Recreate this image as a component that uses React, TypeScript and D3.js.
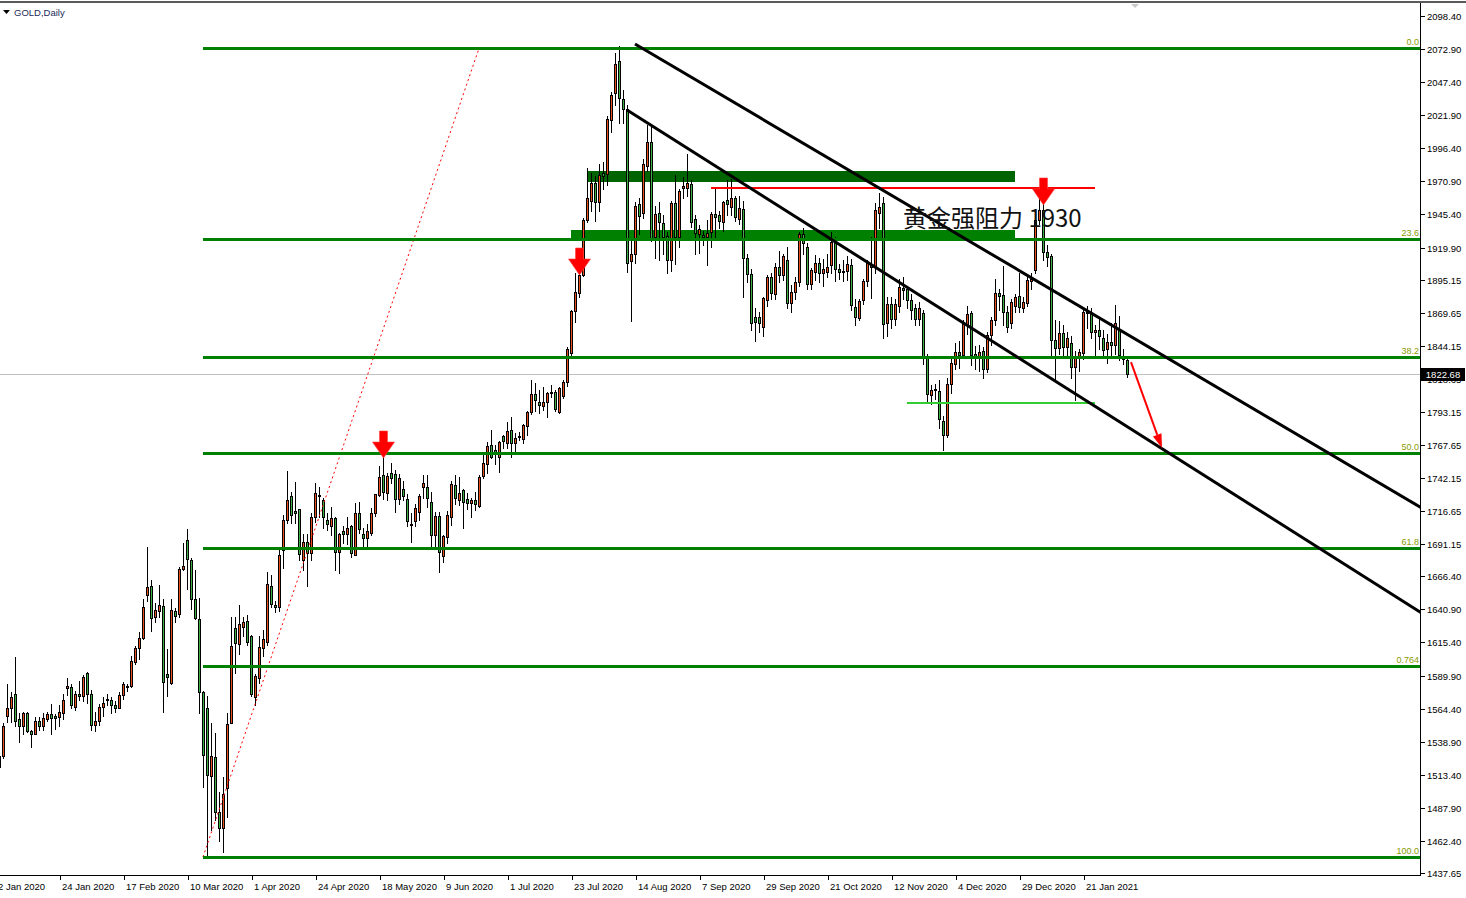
import React from 'react';
import * as d3 from 'd3';

// ---------------- DATA ----------------
const opens = [
1519,1528,1559,1565,1576,1556,1551,1561,1547,1545,
1555,1551,1556,1560,1559,1558,1561,1580,1581,1566,
1576,1574,1592,1576,1552,1555,1566,1571,1571,1567,
1565,1575,1582,1582,1600,1611,1619,1652,1659,1635,
1640,1643.5,1591,1584.4,1639.6,1637,1671.8,1694.4,1679,1648.9,
1633.2,1577.4,1564.6,1512.4,1526.8,1484.4,1472,1503,1553,1626.3,
1614,1627.6,1632.2,1620.4,1573,1587.7,1611,1616,1659.2,1644,
1642.5,1687,1709.8,1728.3,1716.7,1718,1679,1693,1684,1712,
1729,1725,1710,1705,1711,1685,1701,1699,1705,1683,
1715,1699,1696,1700,1715,1729,1744.5,1731,1746,1745,
1726,1734,1726,1707,1709,1716,1735,1735,1724,1698,
1713,1682,1696.7,1711.9,1736.8,1725.2,1733,1725.8,1722.7,1725.2,
1720.6,1744,1753,1767.7,1763.8,1758.7,1774.6,1769.4,1779.2,1768.9,
1774,1772,1782.6,1793.4,1807,1801.1,1797.7,1801.1,1808.8,1808.8,
1793.3,1805.4,1816.5,1838.8,1871,1884.6,1898.7,1941.1,1956,1970,
1955.3,1977.6,1976.6,2018.3,2038.8,2063.7,2034.2,2026.4,1909.5,1914.9,
1953.2,1946.3,1983,2001,1927.8,1946.3,1938.5,1929,1910,1954,
1928,1965.5,1966,1968.9,1941.6,1930,1929.5,1928.3,1932.1,1945.5,
1944.9,1939.8,1956.5,1951.4,1958.3,1941.6,1949.3,1911.6,1899.2,1866.6,
1866,1858.4,1879.4,1897.4,1884,1905,1899,1910.3,1876.9,1885.9,
1893,1930,1920.5,1891.7,1901,1908,1900,1901,1906.6,1923.6,
1903,1901,1901.8,1906.5,1874.3,1865.3,1879.5,1894.1,1907,1905.2,
1946.8,1954.5,1862,1876.4,1864.6,1874.9,1888.5,1887.7,1879.5,1873.6,
1865,1869.7,1836.3,1806,1810,1809.6,1786.4,1775.4,1814.7,1829.9,
1839.6,1837.1,1860.9,1869.7,1838,1835,1840,1826,1852.5,1864,
1885,1883,1870,1862,1875,1882.5,1873.6,1877,1894,1902.6,
1941.2,1948.9,1916.7,1913.4,1848.6,1842.2,1853.8,1843.5,1846,1828,
1835,1838.9,1870.5,1869.2,1855,1856,1850,1842,1847,1845,
1856,1836,1833
];
const highs = [
1530,1553,1583,1577,1604,1561,1562,1562,1548,1558,
1558,1561,1562,1568,1560,1567,1576,1588,1583,1578,
1586,1590,1593,1579,1562,1568,1573,1576,1573,1570.5,
1577,1585,1583.5,1605,1613,1623.5,1648.6,1689,1663.5,1645.6,
1659.7,1649,1610,1649,1641.7,1673.8,1692.3,1703,1680.2,1671.3,
1649.4,1578.2,1574.4,1553.5,1545.3,1500.3,1512,1561.3,1635.3,1635.3,
1644.3,1635.3,1636.6,1621.1,1591,1620,1625,1670,1667.4,1647,
1688,1714,1747.8,1731.6,1739.3,1718.5,1699,1699,1715,1738,
1735.5,1727,1715,1720,1712,1700,1705,1712,1706,1723,
1724,1704,1707,1719,1730,1751.5,1761,1746,1754,1748,
1745,1740,1730,1715,1722,1730,1744.5,1744.5,1731.7,1716,
1716.2,1698,1717,1740.2,1744.5,1742.7,1734,1730.9,1727,1731.7,
1744.5,1762,1770.2,1779.2,1767.7,1771,1775.4,1785.6,1789.5,1777.2,
1777.9,1783.5,1794,1817.8,1815.7,1810,1812.6,1808.5,1813.9,1810,
1812,1817.8,1843,1872,1900,1900,1943,1981,1977,1975,
1984,1986,2021,2040,2069.6,2075,2041,2030,1925,1955,
1958,1988,2014.4,2015,1952,1955,1945,1932,1956,1976,
1965,1974,1991.7,1972,1945,1937,1933,1941,1947,1964.8,
1948,1956,1972,1973,1960,1960,1956,1915,1903,1873,
1870,1882,1899,1900,1908,1917,1915,1920,1891,1897,
1932,1935,1923,1904,1914,1912,1911,1915,1932,1928,
1907,1910,1913,1911,1880,1880,1896,1910,1928,1954,
1962,1959.1,1881.5,1881.5,1880,1896,1897,1890,1884,1876,
1878,1872,1838,1814,1815,1818,1790,1819,1835,1846,
1848,1864,1875,1871,1844,1845,1843,1855,1866,1896,
1888,1906,1875,1880,1884,1900,1882,1898,1900,1944,
1959,1954,1922,1915,1864,1863,1860,1855,1852,1840,
1842,1872,1875,1873,1860,1866,1856,1853,1862,1875.6,
1867,1842,1836
];
const lows = [
1517,1526,1554,1554,1551,1539,1545,1546,1535,1545,
1548,1548,1555,1545,1549,1551,1556,1575,1565,1563,
1571,1570,1569,1548,1547,1552,1559,1567,1561,1561.5,
1565,1572,1578,1581,1599,1603,1618,1647,1624.5,1631.4,
1635.3,1562,1574,1583.4,1631.4,1635.3,1671.3,1656.6,1640.9,1633.2,
1560.7,1504.2,1450.5,1470.8,1478.5,1462.6,1454,1481,1553,1591.6,
1606.5,1620.4,1613.4,1574,1567,1584,1605,1613.4,1643,1639,
1640,1673,1707.7,1707.2,1707.2,1679,1671,1659,1679,1708,
1712,1704,1702,1698,1671,1669,1692,1691,1681,1683,
1700,1690,1690,1698,1713,1728,1726,1725,1738,1716,
1722,1725,1705,1693,1705,1710,1726.5,1720,1689,1689,
1670,1677.7,1691.8,1706,1722,1721.4,1703.4,1718,1712.4,1717.5,
1720,1742,1745.8,1757.4,1753,1747.1,1765,1765.1,1758.7,1762.5,
1771.5,1768.9,1775.4,1791.5,1794,1792,1795,1789.5,1805,1794,
1792,1804,1813,1836,1862.7,1882,1898,1939.8,1948,1940,
1948,1965,1968,2009,2030,2016,2016,1901,1863,1908,
1930,1943,1979,1925,1912,1910,1915,1900,1902,1907,
1920,1958,1960,1936,1915,1916,1922,1906.4,1920,1925.7,
1935,1933,1945,1945,1940,1938,1882,1893,1856,1848,
1855,1852,1875,1880,1880,1893,1895,1873,1870,1880,
1890,1915,1888,1888,1895,1893,1890,1897,1900,1894,
1896,1894,1895,1872,1860,1864,1876,1890,1880.8,1900,
1935,1849.9,1852,1857.6,1860,1870,1880,1873,1865,1860,
1860,1830,1800,1799,1803,1780.5,1764,1774,1808,1826,
1827,1836,1853,1829,1826,1825,1819,1824,1845,1860,
1872,1860,1855,1858,1870,1870,1870,1875,1888,1900,
1938,1910,1906,1835,1817.8,1838,1836,1835,1819,1802,
1825,1834,1858,1850,1836,1842,1836,1831,1836,1838,
1833,1830,1820
];
const closes = [
1528,1551,1565,1573,1555,1551,1561,1547,1545,1555,
1551,1557,1560,1557,1557,1562,1571,1582,1567,1576,
1574,1589,1576,1552,1555,1566,1569,1572,1567,1565,
1575,1583,1581,1601,1611,1619,1642.5,1658,1634,1640.4,
1644.3,1585,1588.5,1640.4,1636,1671.8,1674.3,1679.5,1648.6,1634,
1577,1528.6,1513.2,1527.8,1485,1472,1498.3,1552.5,1612.7,1614.7,
1630,1631.2,1616,1575.6,1589.5,1611.6,1617.8,1660.5,1644.8,1642.5,
1683,1710,1725.2,1713.7,1715,1683.3,1693,1684,1712,1731,
1728,1712,1707,1711,1685,1699,1699,1704,1684,1715,
1703,1696,1701,1715,1730,1743,1731.6,1744,1742,1726,
1742,1728,1709,1706,1719,1728,1738,1726.5,1698.3,1713,
1685.4,1697.5,1713.7,1737.6,1726.5,1730.4,1724,1722.7,1725.2,1722.2,
1743.2,1754,1766.9,1758.7,1761.2,1770.2,1771,1778.7,1768.9,1772.8,
1774.3,1783.1,1793.4,1807,1802.3,1798.5,1801.1,1808,1807.5,1795.1,
1811.3,1816.5,1841.4,1871.2,1885.9,1898.7,1941.1,1957.8,1970,1955,
1975.8,1975,2019,2037.5,2061.4,2034.9,2026.4,1908.2,1914.9,1951.9,
1944.2,1984,2001,1927,1945.7,1939.8,1928.3,1910,1953.9,1928,
1963.5,1967.3,1969.4,1939.8,1930.8,1934,1927.8,1930.8,1945.5,1943.2,
1940.3,1955.2,1953.5,1957.8,1943.2,1950.1,1911.6,1899.2,1861.9,1862.7,
1862,1880.7,1897.4,1884.6,1905.1,1899,1913,1876.9,1885.9,1893.6,
1930.1,1923.6,1891.7,1902.6,1908,1900,1903,1905,1924.4,1903.5,
1901,1902,1907.5,1875.6,1866.6,1878.7,1894.1,1907.7,1905,1948.9,
1951.4,1860.9,1876.4,1864.6,1876.4,1889.8,1887.2,1879.5,1871.8,1864.6,
1873,1836.3,1807,1810,1811,1787.5,1775.4,1814.7,1831.2,1839.6,
1837.1,1860.9,1868.7,1837.1,1835,1839,1826,1852.5,1864,1884.6,
1882.5,1870,1859,1878,1882,1873.8,1878.2,1894.9,1896,1941.2,
1948.9,1916.7,1912.9,1848.6,1842.2,1853.8,1843.5,1850,1828,1835,
1839,1870.5,1869.2,1855,1856,1852,1841,1847,1845,1862,
1837,1834,1822.7
];

const dateLabels = [
  '2 Jan 2020', '24 Jan 2020', '17 Feb 2020', '10 Mar 2020', '1 Apr 2020', '24 Apr 2020',
  '18 May 2020', '9 Jun 2020', '1 Jul 2020', '23 Jul 2020', '14 Aug 2020', '7 Sep 2020',
  '29 Sep 2020', '21 Oct 2020', '12 Nov 2020', '4 Dec 2020', '29 Dec 2020', '21 Jan 2021'
];
const dateLabelStep = 16; // bars between date labels

const priceLabels = [
  2098.40, 2072.90, 2047.40, 2021.90, 1996.40, 1970.90, 1945.40, 1919.90, 1895.15,
  1869.65, 1844.15, 1818.65, 1793.15, 1767.65, 1742.15, 1716.65, 1691.15, 1666.40,
  1640.90, 1615.40, 1589.90, 1564.40, 1538.90, 1513.40, 1487.90, 1462.40, 1437.65
];

const currentPrice = 1822.68;

// Fibonacci retracement (anchor bar index & price)
const fibStart = { i: 51, p: 1450.0 };
const fibEnd = { i: 120, p: 2073.5 };
const fibLevels = [0, 0.236, 0.382, 0.5, 0.618, 0.764, 1];
const fibTexts = ['0.0', '23.6', '38.2', '50.0', '61.8', '0.764', '100.0'];

// drawn objects: zones, lines, arrows (bar index & price)
const zones = [
  { i0: 147, i1: 254, p0: 1970.4, p1: 1978.9, color: '#006400' },
  { i0: 143, i1: 254, p0: 1927.6, p1: 1933.4, color: '#008000' },
];
const hLines = [
  { i0: 178, i1: 274, p: 1966.6, color: '#ff0000' },
  { i0: 227, i1: 274, p: 1800.8, color: '#32cd32' },
];
const trendLines = [
  { a: { i: 159, p: 2076.8 }, b: { i: 272, p: 1871.3 } },
  { a: { i: 157, p: 2025.9 }, b: { i: 272, p: 1801.4 } },
];
const downArrows = [
  { i: 96, p: 1757.6 },
  { i: 145, p: 1898.7 },
  { i: 261, p: 1952.7 },
];
const forecastArrow = { a: { i: 283, p: 1831.6 }, b: { i: 290.75, p: 1765.3 } };
const note = { i: 226, p: 1935.7, text: '黄金强阻力 1930' };

// ---------------- CHART ----------------
const W = 1466;
const H = 898;
const PLOT_R = 1420;
const PLOT_B = 875;
const BULL = '#e8501e';
const BEAR = '#3cb043';
const FIB = '#008000';
const FIB_TXT = '#8a9a00';
const AXIS_FONT = '"Liberation Sans", Arial, sans-serif';

export default function App() {
  const x = d3.scaleLinear().domain([0, 1]).range([-1, 3]);
  const y = d3.scaleLinear().domain([1437.65, 2098.4]).range([873, 16]);
  const iAtRight = x.invert(PLOT_R + 1);

  const candles = d3.range(closes.length).map((i) => {
    const o = opens[i];
    const c = closes[i];
    const h = Math.max(highs[i], o, c);
    const l = Math.min(lows[i], o, c);
    const cx = Math.round(x(i));
    return {
      i,
      cx,
      yt: Math.round(y(Math.max(o, c))),
      yb: Math.round(y(Math.min(o, c))),
      yh: Math.round(y(h)),
      yl: Math.round(y(l)),
      up: c >= o,
    };
  });

  const fibRange = fibEnd.p - fibStart.p;
  const extend = (a: { i: number; p: number }, b: { i: number; p: number }, iEnd: number) => {
    const slope = (b.p - a.p) / (b.i - a.i);
    return { i: iEnd, p: a.p + slope * (iEnd - a.i) };
  };

  const fa = forecastArrow;
  const fx1 = x(fa.a.i), fy1 = y(fa.a.p), fx2 = x(fa.b.i), fy2 = y(fa.b.p);
  const ang = Math.atan2(fy2 - fy1, fx2 - fx1);
  const headLen = 14, headHalf = 4.5;
  const bx = fx2 - headLen * Math.cos(ang), by = fy2 - headLen * Math.sin(ang);
  const head = [
    [fx2, fy2],
    [bx + headHalf * Math.sin(ang), by - headHalf * Math.cos(ang)],
    [bx - headHalf * Math.sin(ang), by + headHalf * Math.cos(ang)],
  ];

  const arrowPath = (tx: number, ty: number) =>
    `M${tx - 3.5},${ty - 27} L${tx + 4.5},${ty - 27} L${tx + 4.5},${ty - 16} L${tx + 11.5},${ty - 16} L${tx + 0.5},${ty} L${tx - 10.5},${ty - 16} L${tx - 3.5},${ty - 16} Z`;

  const cpY = Math.round(y(currentPrice));

  return (
    <svg
      width={W}
      height={H}
      style={{ position: 'absolute', left: 0, top: 0, background: '#fff', display: 'block' }}
    >
      <defs>
        <clipPath id="plot">
          <rect x={0} y={3} width={PLOT_R} height={PLOT_B - 3} />
        </clipPath>
      </defs>
      <rect x={0} y={0} width={W} height={H} fill="#fff" />

      <g clipPath="url(#plot)">
        {/* background zones */}
        {zones.map((z, k) => (
          <rect
            key={k}
            x={x(z.i0)}
            y={Math.round(y(z.p1))}
            width={x(z.i1) - x(z.i0)}
            height={Math.round(y(z.p0)) - Math.round(y(z.p1))}
            fill={z.color}
          />
        ))}
        {/* current price line */}
        <rect x={0} y={cpY} width={PLOT_R} height={1} fill="#c0c0c0" />

        {/* candles */}
        {candles.map((d) => (
          <g key={d.i}>
            <rect x={d.cx} y={d.yh} width={1} height={d.yl - d.yh + 1} fill="#000" />
            <rect x={d.cx - 1} y={d.yt} width={3} height={d.yb - d.yt + 1} fill="#000" />
            {d.yb - d.yt > 1 && (
              <rect x={d.cx} y={d.yt + 1} width={1} height={d.yb - d.yt - 1} fill={d.up ? BULL : BEAR} />
            )}
          </g>
        ))}

        {/* fibonacci */}
        <line
          x1={x(fibStart.i)}
          y1={y(fibStart.p)}
          x2={x(fibEnd.i)}
          y2={y(fibEnd.p)}
          stroke="#ff0000"
          strokeWidth={1}
          strokeDasharray="2 3"
        />
        {fibLevels.map((lv, k) => {
          const p = fibEnd.p - lv * fibRange;
          const yy = Math.round(y(p));
          return (
            <g key={k}>
              <rect x={x(fibStart.i)} y={yy - 1} width={PLOT_R - x(fibStart.i)} height={3} fill={FIB} />
              <text
                x={PLOT_R - 1}
                y={yy - 3}
                textAnchor="end"
                fontFamily={AXIS_FONT}
                fontSize={9}
                fill={FIB_TXT}
              >
                {fibTexts[k]}
              </text>
            </g>
          );
        })}

        {/* horizontal lines */}
        {hLines.map((l, k) => (
          <rect key={k} x={x(l.i0)} y={Math.round(y(l.p))} width={x(l.i1) - x(l.i0)} height={2} fill={l.color} />
        ))}

        {/* trend lines */}
        {trendLines.map((t, k) => {
          const e = extend(t.a, t.b, iAtRight);
          return (
            <line
              key={k}
              x1={x(t.a.i)}
              y1={y(t.a.p)}
              x2={x(e.i)}
              y2={y(e.p)}
              stroke="#000"
              strokeWidth={3}
            />
          );
        })}

        {/* down arrows */}
        {downArrows.map((a, k) => (
          <path key={k} d={arrowPath(x(a.i), y(a.p))} fill="#ff0000" stroke="#ff4040" strokeWidth={0.6} />
        ))}

        {/* forecast arrow */}
        <line x1={fx1} y1={fy1} x2={bx} y2={by} stroke="#ff0000" strokeWidth={2} />
        <polygon points={head.map((p) => p.join(',')).join(' ')} fill="#ff0000" />

        {/* note */}
        <text
          x={x(note.i)}
          y={y(note.p)}
          fontFamily='"Noto Sans CJK SC", sans-serif'
          fontSize={24}
          fill="#111"
        >
          {note.text}
        </text>
      </g>

      {/* shift marker */}
      <polygon
        points={`${x(284) - 4},4 ${x(284) + 4},4 ${x(284)},8`}
        fill="#c8c8c8"
      />

      {/* frame */}
      <rect x={0} y={1} width={W} height={2} fill="#5a5a5a" />
      <rect x={PLOT_R} y={3} width={1} height={PLOT_B - 2} fill="#000" />
      <rect x={0} y={PLOT_B} width={PLOT_R + 1} height={1} fill="#000" />

      {/* title */}
      <polygon points="3,10 10,10 6.5,14" fill="#000" />
      <text x={14} y={16} fontFamily={AXIS_FONT} fontSize={9.5} fill="#1c2a5a">
        GOLD,Daily
      </text>

      {/* price axis */}
      {priceLabels.map((p) => {
        const yy = Math.round(y(p));
        return (
          <g key={p}>
            <rect x={PLOT_R + 1} y={yy} width={4} height={1} fill="#000" />
            <text x={PLOT_R + 7} y={yy + 3.5} fontFamily={AXIS_FONT} fontSize={9.5} fill="#000">
              {p.toFixed(2)}
            </text>
          </g>
        );
      })}
      <rect x={PLOT_R + 1} y={cpY - 6} width={44} height={13} fill="#000" />
      <text
        x={PLOT_R + 23}
        y={cpY + 3.5}
        textAnchor="middle"
        fontFamily={AXIS_FONT}
        fontSize={9.5}
        fill="#fff"
      >
        {currentPrice.toFixed(2)}
      </text>

      {/* date axis */}
      {dateLabels.map((lab, k) => {
        const xx = Math.round(x(k * dateLabelStep));
        return (
          <g key={lab}>
            <rect x={xx - 3} y={PLOT_B} width={1} height={5} fill="#000" />
            <text x={xx - 1} y={890} fontFamily={AXIS_FONT} fontSize={9.5} fill="#000">
              {lab}
            </text>
          </g>
        );
      })}
    </svg>
  );
}
